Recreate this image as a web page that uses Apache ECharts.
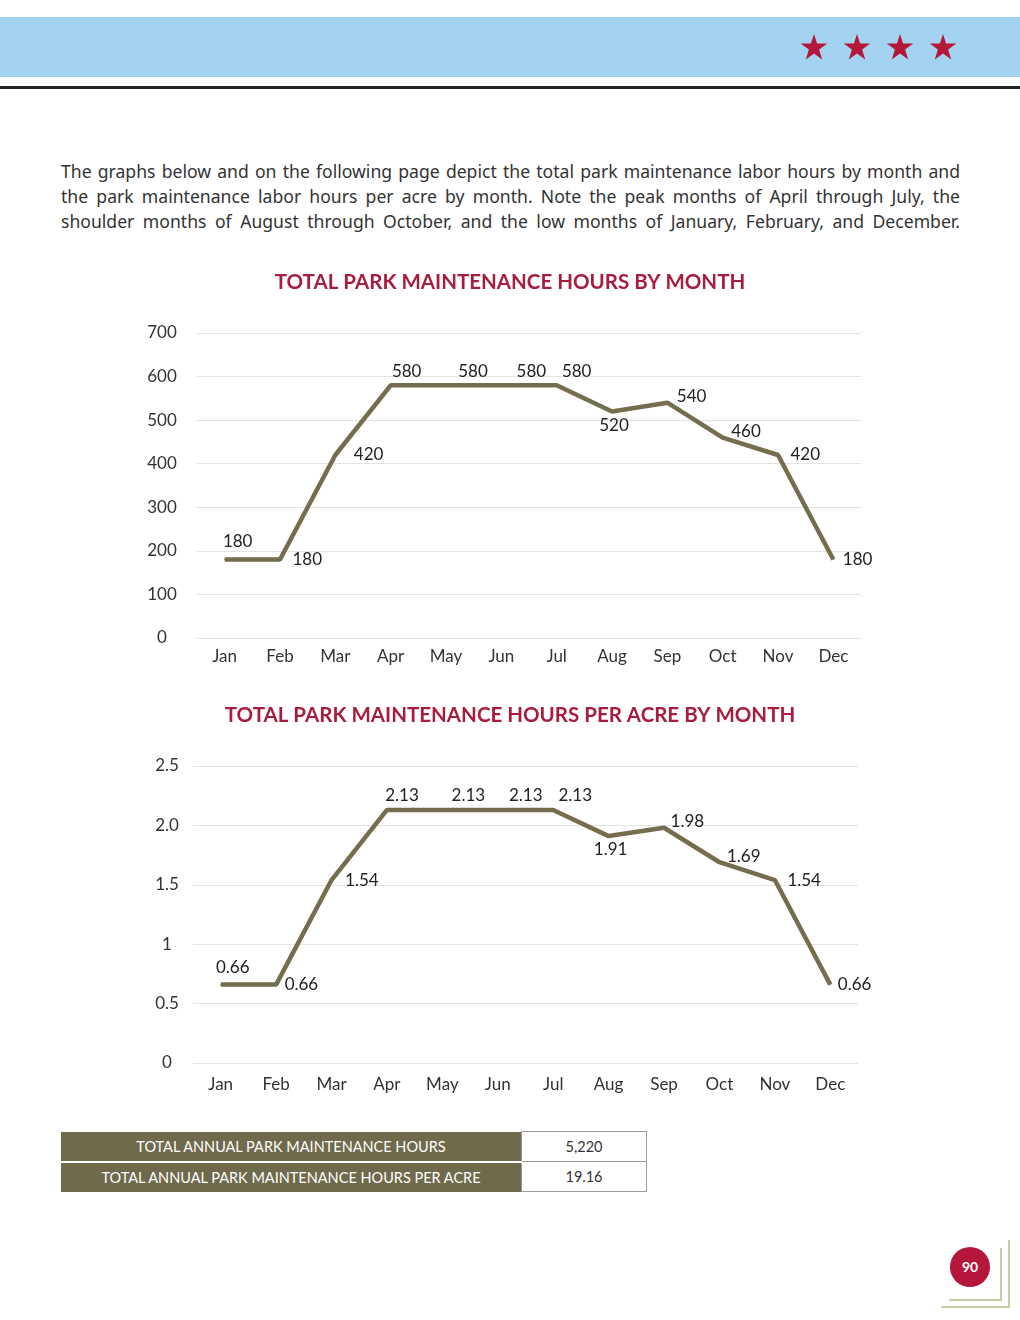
<!DOCTYPE html>
<html>
<head>
<meta charset="utf-8">
<script src="https://cdn.jsdelivr.net/npm/echarts@6/dist/echarts.min.js"></script>
<style>
  html, body { margin: 0; padding: 0; background: #fff; }
  body { width: 1020px; height: 1320px; position: relative; overflow: hidden; font-family: Lato, "Noto Sans", sans-serif; }
  .band { position: absolute; left: 0; top: 17px; width: 1020px; height: 60px; background: #a4d2f1; }
  .rule { position: absolute; left: 0; top: 86px; width: 1020px; height: 3px; background: #222; }
  .stars { position: absolute; left: 800px; top: 33px; }
  .para { position: absolute; left: 61px; top: 159px; width: 899px; color: #333; font-family: "Noto Sans", sans-serif; font-size: 17.6px; line-height: 25px; }
  .para div { text-align: justify; text-align-last: justify; white-space: nowrap; }
  #chart { position: absolute; left: 0; top: 250px; width: 1020px; height: 860px; }
  table { position: absolute; left: 61px; top: 1131px; border-collapse: collapse; font-size: 14.5px; }
  td { height: 29px; padding: 0; text-align: center; }
  td.k { width: 460px; background: #6f6a4b; color: #fff; border-bottom: 2px solid #fff; }
  tr:last-child td.k { border-bottom: none; }
  td.v { width: 124px; color: #333; border: 1px solid #9a9a9a; }
  .pg { position: absolute; left: 950px; top: 1247px; width: 40px; height: 40px; border-radius: 50%; background: #b5173a; color: #fff; font-weight: bold; font-size: 14px; line-height: 40px; text-align: center; }
</style>
</head>
<body>
<div class="band"></div>
<div class="rule"></div>
<svg class="stars" width="160" height="30" viewBox="0 0 160 30">
  <g fill="#b5173a">
    <polygon id="st" points="14,1 17.1,10.6 27.3,10.6 19.1,16.6 22.2,26.4 14,20.4 5.8,26.4 8.9,16.6 0.7,10.6 10.9,10.6"/>
    <use href="#st" x="43"/>
    <use href="#st" x="86"/>
    <use href="#st" x="129"/>
  </g>
</svg>
<div class="para">
  <div>The graphs below and on the following page depict the total park maintenance labor hours by month and</div>
  <div>the park maintenance labor hours per acre by month. Note the peak months of April through July, the</div>
  <div>shoulder months of August through October, and the low months of January, February, and December.</div>
</div>
<div id="chart"></div>
<table>
  <tr><td class="k">TOTAL ANNUAL PARK MAINTENANCE HOURS</td><td class="v">5,220</td></tr>
  <tr><td class="k">TOTAL ANNUAL PARK MAINTENANCE HOURS PER ACRE</td><td class="v">19.16</td></tr>
</table>
<div class="pg">90</div>
<svg style="position:absolute;left:936px;top:1236px" width="80" height="80">
  <polyline points="65,12 65,64 13,64" fill="none" stroke="#c8cca3" stroke-width="2"/>
  <polyline points="73,4 73,71 5,71" fill="none" stroke="#c8cca3" stroke-width="2"/>
</svg>
<script>
const months = ['Jan','Feb','Mar','Apr','May','Jun','Jul','Aug','Sep','Oct','Nov','Dec'];
const totalHours = [180, 180, 420, 580, 580, 580, 580, 520, 540, 460, 420, 180];
const hoursPerAcre = [0.66, 0.66, 1.54, 2.13, 2.13, 2.13, 2.13, 1.91, 1.98, 1.69, 1.54, 0.66];
const hoursTicks = ['0','100','200','300','400','500','600','700'];
const acreTicks = ['0','0.5','1','1.5','2.0','2.5'];
const title1 = 'TOTAL PARK MAINTENANCE HOURS BY MONTH';
const title2 = 'TOTAL PARK MAINTENANCE HOURS PER ACRE BY MONTH';

// label placement (style only)
const labelPos1 = [['top',[13,-4]],['right',[7,0]],['right',[13,0]],['top',[16,0]],['top',[27,0]],['top',[30,0]],['top',[20,0]],['bottom',[2,0]],['right',[4,-6]],['right',[3,-6]],['right',[7,0]],['right',[4,0]]];
const labelPos2 = [['top',[12,-3]],['right',[3,0]],['right',[8,0]],['top',[15,0]],['top',[26,0]],['top',[28,0]],['top',[22,0]],['bottom',[2,-1]],['right',[1,-6]],['right',[2,-6]],['right',[7,0]],['right',[2,0]]];

const FONT = 'Lato, "Noto Sans", sans-serif';
const LINE = '#756e4e';

function mkData(vals, pos) {
  return vals.map((v, i) => ({ value: v, label: { position: pos[i][0], offset: pos[i][1] } }));
}
function yAxisCfg(max, interval, ticks, gridIdx, margin) {
  return {
    type: 'value', gridIndex: gridIdx, min: 0, max: max, interval: interval,
    axisLine: { show: false }, axisTick: { show: false },
    splitLine: { lineStyle: { color: '#e3e3e3', width: 1 } },
    axisLabel: { color: '#333', fontSize: 17, fontFamily: FONT, margin: margin, align: 'center',
      formatter: (v) => ticks[Math.round(v / interval)] }
  };
}
function xAxisCfg(gridIdx, margin) {
  return {
    type: 'category', gridIndex: gridIdx, data: months, boundaryGap: true,
    axisLine: { show: false }, axisTick: { show: false },
    axisLabel: { color: '#333', fontSize: 17, fontFamily: FONT, margin: margin }
  };
}
function seriesCfg(vals, pos, idx) {
  return {
    type: 'line', xAxisIndex: idx, yAxisIndex: idx, data: mkData(vals, pos),
    symbol: 'circle', symbolSize: 1, showSymbol: true,
    lineStyle: { color: LINE, width: 4.5 }, itemStyle: { color: LINE },
    label: { show: true, color: '#222', fontSize: 17, fontFamily: FONT, distance: 5 },
    emphasis: { disabled: true }, animation: false
  };
}

const chart = echarts.init(document.getElementById('chart'));
chart.setOption({
  animation: false,
  title: [
    { text: title1, left: 'center', top: 17, textStyle: { color: '#a81d3d', fontSize: 20.5, fontWeight: 'bold', fontFamily: FONT } },
    { text: title2, left: 'center', top: 450, textStyle: { color: '#a81d3d', fontSize: 20.5, fontWeight: 'bold', fontFamily: FONT } }
  ],
  grid: [
    { left: 197, top: 83, width: 664, height: 305 },
    { left: 193, top: 516, width: 665, height: 297 }
  ],
  xAxis: [xAxisCfg(0, 10), xAxisCfg(1, 13)],
  yAxis: [yAxisCfg(700, 100, hoursTicks, 0, 35), yAxisCfg(2.5, 0.5, acreTicks, 1, 26)],
  series: [seriesCfg(totalHours, labelPos1, 0), seriesCfg(hoursPerAcre, labelPos2, 1)]
});
</script>
</body>
</html>
